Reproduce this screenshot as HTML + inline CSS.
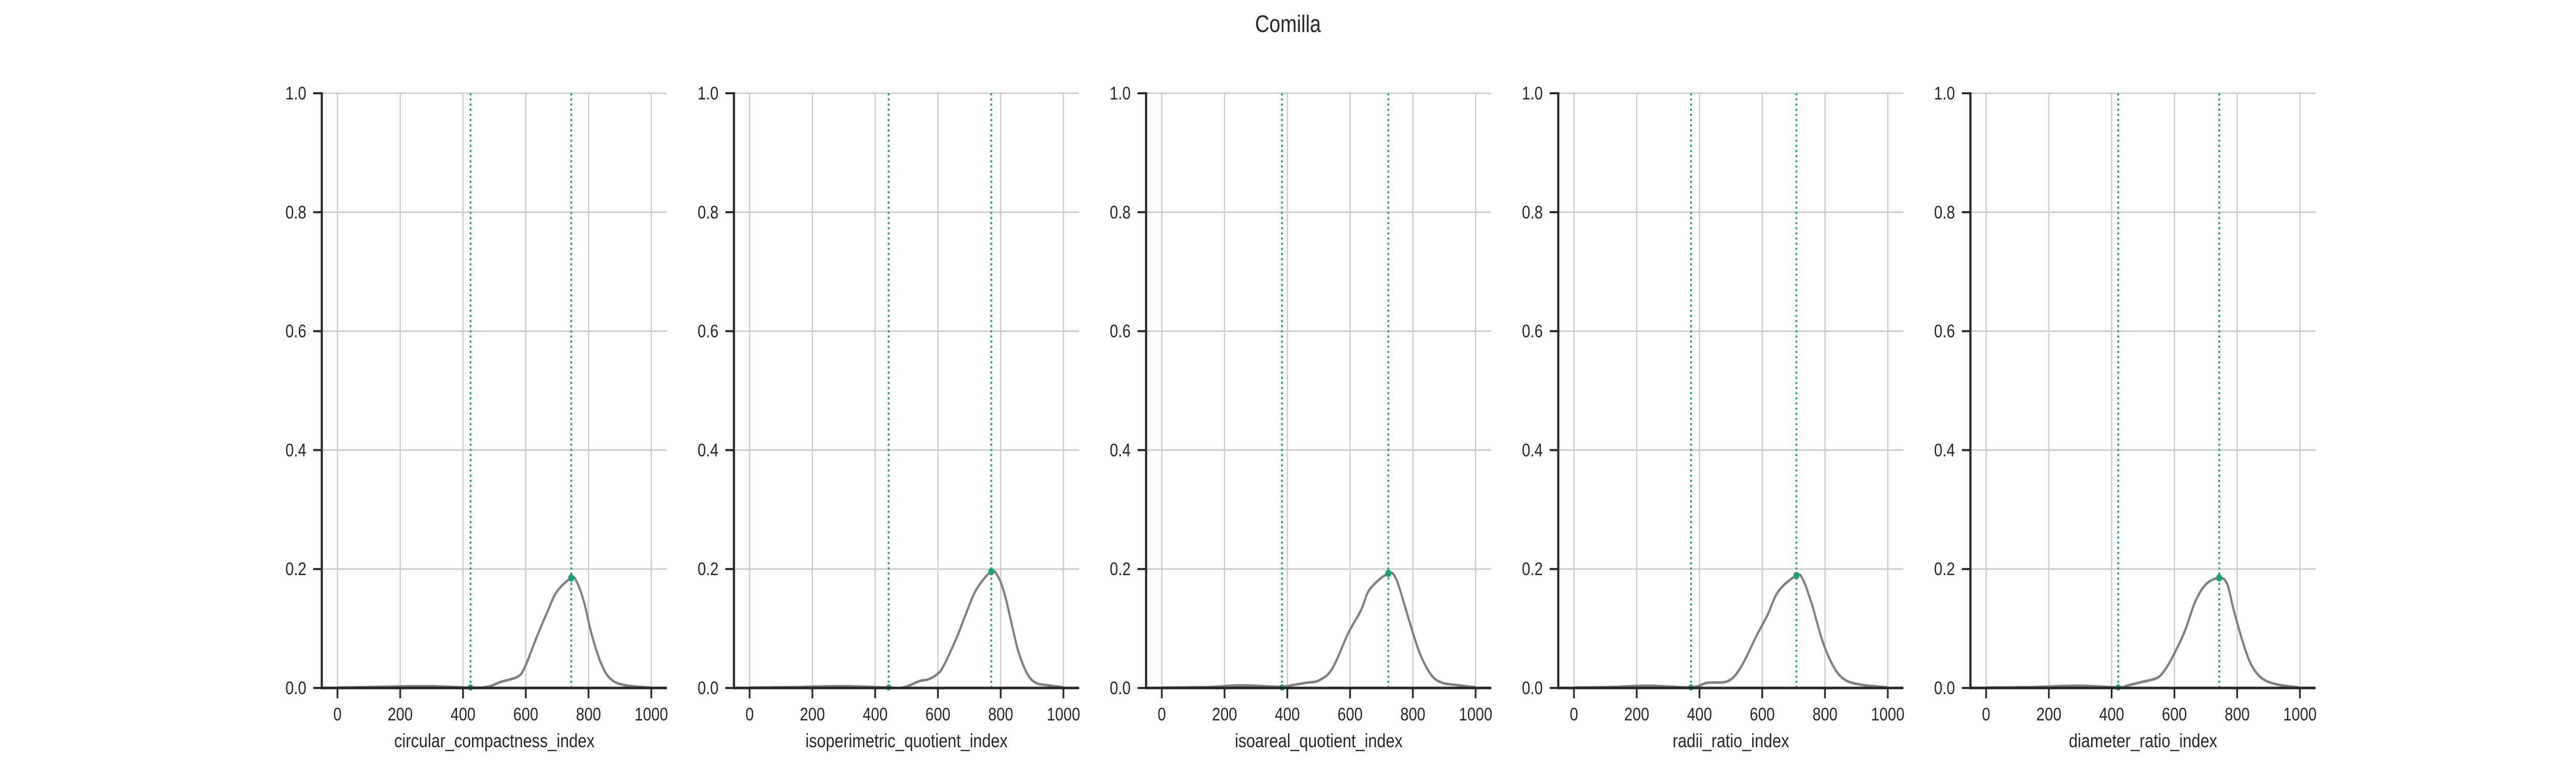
<!DOCTYPE html>
<html><head><meta charset="utf-8"><style>
html,body{margin:0;padding:0;background:#fff;overflow:hidden;width:100%;height:100%;}
svg{display:block;font-family:"Liberation Sans",Arial,sans-serif;width:100vw;height:100vh;}
</style></head><body>
<svg id="chart" viewBox="0 0 6000 1500" preserveAspectRatio="none">
<rect width="6000" height="1500" fill="#fff"/>
<text x="3000" y="62" text-anchor="middle" font-size="46" fill="#262626">Comilla</text>
</svg>
<script>
const panelNames = ["circular_compactness_index","isoperimetric_quotient_index","isoareal_quotient_index","radii_ratio_index","diameter_ratio_index"];
const xTicks = [0,200,400,600,800,1000];
const yTicks = [0.0,0.2,0.4,0.6,0.8,1.0];
const yTickLabels = ["0.0","0.2","0.4","0.6","0.8","1.0"];
const lowMarks = [424,443,383,373,421];
const peakMarks = [745,770,722,709,743];
const peakValues = [0.185,0.1955,0.1927,0.189,0.185];
const kdeX1 = [0,150,291,424,479,519,574,597,636,668,699,745,762,786,809,841,872,919,998];
const kdeY1 = [0.0005,0.002,0.003,0.0005,0.002,0.010,0.019,0.035,0.087,0.127,0.162,0.185,0.179,0.144,0.092,0.040,0.0144,0.0043,0.0006];
const kdeX2 = [0,150,300,443,492,541,569,597,617,660,688,723,770,793,814,835,856,884,912,954,999];
const kdeY2 = [0.0005,0.0015,0.003,0.0005,0.001,0.0116,0.0144,0.023,0.036,0.085,0.123,0.166,0.1955,0.186,0.155,0.108,0.062,0.0246,0.0087,0.0043,0.001];
const kdeX3 = [0,150,250,376,418,460,502,544,593,635,663,722,747,775,796,824,859,894,950,999];
const kdeY3 = [0.0005,0.0015,0.0043,0.002,0.005,0.0087,0.013,0.033,0.091,0.131,0.166,0.1927,0.183,0.137,0.1,0.056,0.0217,0.0087,0.0043,0.001];
const kdeX4 = [0,120,240,373,424,491,533,582,617,652,709,729,757,792,827,862,911,998];
const kdeY4 = [0.0005,0.0015,0.0038,0.001,0.0087,0.0116,0.036,0.088,0.123,0.163,0.189,0.183,0.143,0.079,0.036,0.0144,0.0058,0.001];
const kdeX5 = [0,150,293,421,450,492,541,562,590,632,667,702,743,768,789,817,845,880,928,995];
const kdeY5 = [0.0005,0.0015,0.0038,0.001,0.004,0.0095,0.016,0.025,0.048,0.094,0.146,0.175,0.185,0.175,0.131,0.079,0.039,0.0159,0.0058,0.001];
const kdeXs = [kdeX1,kdeX2,kdeX3,kdeX4,kdeX5];
const kdeYs = [kdeY1,kdeY2,kdeY3,kdeY4,kdeY5];

const NS = "http://www.w3.org/2000/svg";
const svg = document.getElementById("chart");
const PW = 804, TOP = 181, BOT = 1335, PX0 = 749.5, GAP = 960;
function mk(tag, attrs, parent){ const e=document.createElementNS(NS,tag); for(const k in attrs) e.setAttribute(k,attrs[k]); (parent||svg).appendChild(e); return e; }
function smoothPath(pts){
  let d = "M"+pts[0][0].toFixed(1)+","+pts[0][1].toFixed(1);
  for(let i=0;i<pts.length-1;i++){
    const p0=pts[Math.max(0,i-1)], p1=pts[i], p2=pts[i+1], p3=pts[Math.min(pts.length-1,i+2)];
    const c1=[p1[0]+(p2[0]-p0[0])/6, p1[1]+(p2[1]-p0[1])/6];
    const c2=[p2[0]-(p3[0]-p1[0])/6, p2[1]-(p3[1]-p1[1])/6];
    d += " C"+c1[0].toFixed(1)+","+c1[1].toFixed(1)+" "+c2[0].toFixed(1)+","+c2[1].toFixed(1)+" "+p2[0].toFixed(1)+","+p2[1].toFixed(1);
  }
  return d;
}
for(let p=0;p<5;p++){
  const left = PX0 + p*GAP;
  const xs = v => left + (v+50)/1100*PW;
  const ys = v => BOT - v*(BOT-TOP);
  const g = mk("g",{});
  
  
  xTicks.forEach(t=>{ const l=mk("line",{x1:xs(t),x2:xs(t),y1:TOP,y2:BOT,stroke:"#cccccc","stroke-width":3},g);
    
     });
  yTicks.forEach(t=>{ const l=mk("line",{x1:left,x2:left+PW,y1:ys(t),y2:ys(t),stroke:"#cccccc","stroke-width":3},g);
    
     });
  [lowMarks[p],peakMarks[p]].forEach((v,i)=>{
    const l=mk("line",{x1:xs(v),x2:xs(v),y1:TOP,y2:BOT,stroke:"#17a07a","stroke-width":4,"stroke-dasharray":"4,6"},g);
    
    
  });
  const pts = kdeXs[p].map((x,i)=>[xs(x),ys(kdeYs[p][i])]);
  const c = mk("path",{d:smoothPath(pts),fill:"none",stroke:"#808080","stroke-width":5,"stroke-linejoin":"round"},g);
  
  
  const m1 = mk("circle",{cx:xs(lowMarks[p]),cy:ys(0.001),r:6,fill:"#17a07a"},g);
  
  
  const m2 = mk("circle",{cx:xs(peakMarks[p]),cy:ys(peakValues[p]),r:7,fill:"#17a07a"},g);
  
  
  const sl = mk("line",{x1:left,x2:left,y1:TOP-2,y2:BOT+2,stroke:"#262626","stroke-width":5},g);
  
  
  const sb = mk("line",{x1:left-2,x2:left+PW,y1:BOT,y2:BOT,stroke:"#262626","stroke-width":5},g);
  
  
  xTicks.forEach(t=>{
    const tk=mk("line",{x1:xs(t),x2:xs(t),y1:BOT,y2:BOT+20,stroke:"#262626","stroke-width":4},g);
    
    
    const tl=mk("text",{x:xs(t),y:BOT+63,"text-anchor":"middle","font-size":35,fill:"#262626"},g);
    tl.textContent=String(t);
    
    
  });
  yTicks.forEach((t,i)=>{
    const tk=mk("line",{x1:left-20,x2:left,y1:ys(t),y2:ys(t),stroke:"#262626","stroke-width":4},g);
    
    
    const tl=mk("text",{x:left-36,y:ys(t)+12,"text-anchor":"end","font-size":35,fill:"#262626"},g);
    tl.textContent=yTickLabels[i];
    
    
  });
  const xl = mk("text",{x:left+PW/2,y:BOT+115,"text-anchor":"middle","font-size":37,fill:"#262626"},g);
  xl.textContent = panelNames[p];
  
  
}
</script>
</body></html>
